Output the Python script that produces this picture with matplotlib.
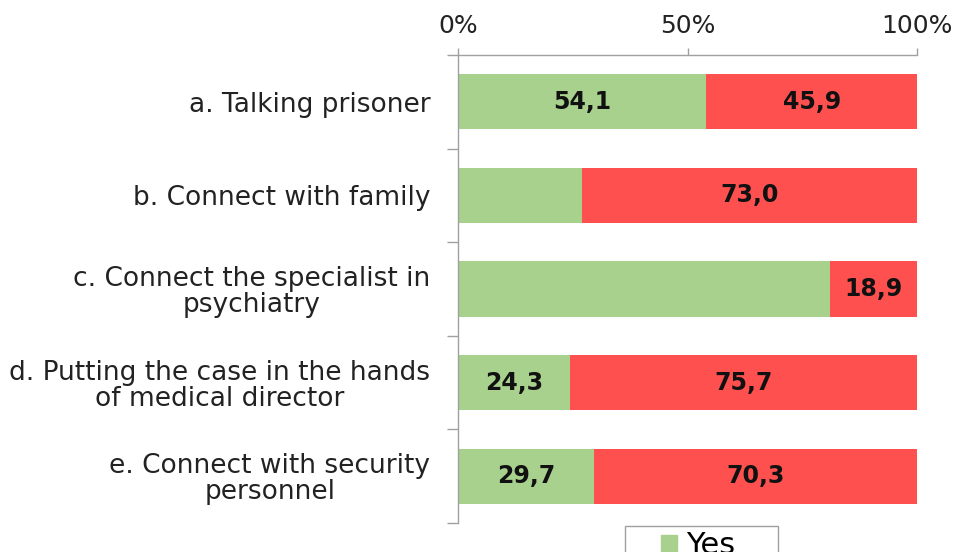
import numpy as np
import matplotlib.pyplot as plt
from matplotlib.lines import Line2D

# -----------------------------
# Data (percent of answers)
# -----------------------------
categories = [
    "a. Talking prisoner",
    "b. Connect with family",
    "c. Connect the specialist in\npsychiatry",
    "d. Putting the case in the hands\nof medical director",
    "e. Connect with security\npersonnel",
]
yes_values = [54.1, 27.0, 81.1, 24.3, 29.7]
no_values = [45.9, 73.0, 18.9, 75.7, 70.3]
# which values get a printed label
yes_shown = [True, False, False, True, True]
no_shown = [True, True, True, True, True]

GREEN = "#a9d18e"
RED = "#ff5050"
GREY = "#a0a0a0"

plt.rcParams["font.family"] = "DejaVu Sans"

fig = plt.figure(figsize=(9.61, 5.52), dpi=100)
ax = fig.add_axes([458 / 961, 1 - 523 / 552, 459 / 961, 468 / 552])

y = np.arange(len(categories))
bar_h = 0.59
yes_bars = ax.barh(y, yes_values, height=bar_h, color=GREEN, linewidth=0)
no_bars = ax.barh(y, no_values, left=yes_values, height=bar_h, color=RED, linewidth=0)


def fmt(v):
    return f"{v:.1f}".replace(".", ",")


ax.bar_label(yes_bars, labels=[fmt(v) if s else "" for v, s in zip(yes_values, yes_shown)],
             label_type="center", fontsize=17, fontweight="bold", color="#111111")
ax.bar_label(no_bars, labels=[fmt(v) if s else "" for v, s in zip(no_values, no_shown)],
             label_type="center", fontsize=17, fontweight="bold", color="#111111")

# -----------------------------
# Axes styling
# -----------------------------
ax.set_xlim(0, 100)
ax.set_ylim(len(categories) - 0.5, -0.5)

ax.xaxis.tick_top()
ax.set_xticks([0, 50, 100])
ax.set_xticklabels(["0%", "50%", "100%"])
ax.tick_params(axis="x", direction="out", length=5, width=1, color=GREY,
               labelsize=18, labelcolor="#222222", pad=7)

ax.set_yticks(y)
ax.set_yticklabels(categories)
ax.set_yticks(np.arange(-0.5, len(categories), 1), minor=True)
ax.tick_params(axis="y", which="major", length=0, labelsize=19, labelcolor="#222222", pad=20)
ax.tick_params(axis="y", which="minor", direction="out", length=8, width=1, color=GREY)
for lbl in ax.get_yticklabels():
    lbl.set_multialignment("center")
    lbl.set_linespacing(1.0)

for side in ["right", "bottom"]:
    ax.spines[side].set_visible(False)
for side in ["left", "top"]:
    ax.spines[side].set_color(GREY)
    ax.spines[side].set_linewidth(1)

# -----------------------------
# Legend (sits at the bottom edge)
# -----------------------------
handles = [Line2D([], [], linestyle="none", marker="s", markersize=11, color=GREEN)]
leg = fig.legend(handles, ["Yes"], loc="upper left",
                 bbox_to_anchor=(625 / 961, 0, 153 / 961, 1 - 526 / 552),
                 bbox_transform=fig.transFigure, mode="expand", borderaxespad=0,
                 fontsize=22, handlelength=2.6, handletextpad=-0.75,
                 fancybox=False, framealpha=1, edgecolor=GREY, borderpad=0.15)
leg.get_frame().set_linewidth(1)

plt.savefig("out.png", dpi=100)
